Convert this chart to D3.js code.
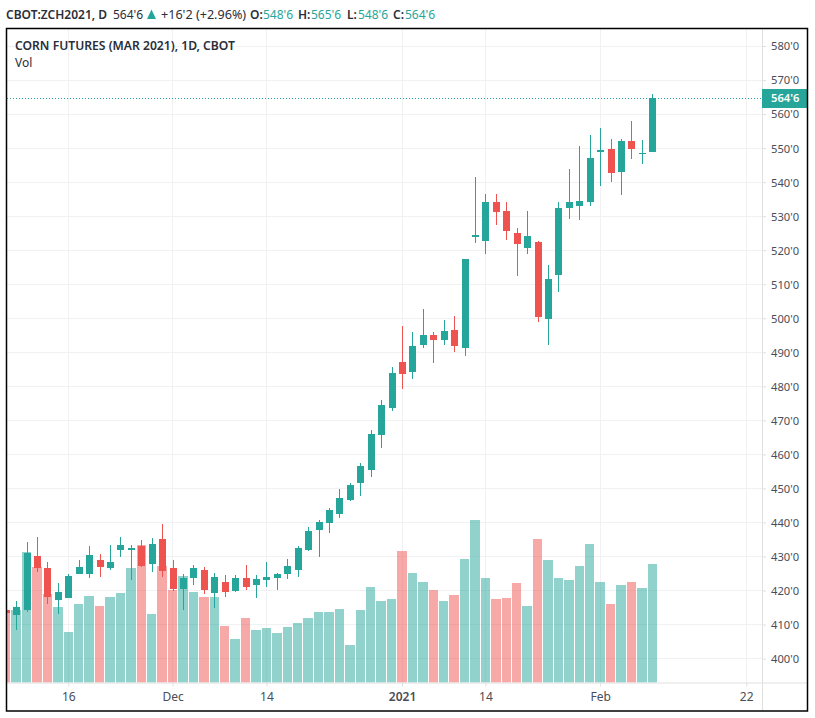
<!DOCTYPE html>
<html>
<head>
<meta charset="utf-8">
<script src="https://cdn.jsdelivr.net/npm/d3@7"></script>
<style>
  html, body { margin: 0; padding: 0; background: #fff; }
  svg { display: block; }
  text { font-family: "Noto Sans", "Open Sans", sans-serif; }
</style>
</head>
<body>
<div id="chart"></div>
<script>
const dates = [
  "2020-11-06","2020-11-09","2020-11-10","2020-11-11","2020-11-12","2020-11-13","2020-11-16","2020-11-17",
  "2020-11-18","2020-11-19","2020-11-20","2020-11-23","2020-11-24","2020-11-25","2020-11-27","2020-11-30",
  "2020-12-01","2020-12-02","2020-12-03","2020-12-04","2020-12-07","2020-12-08","2020-12-09","2020-12-10",
  "2020-12-11","2020-12-14","2020-12-15","2020-12-16","2020-12-17","2020-12-18","2020-12-21","2020-12-22",
  "2020-12-23","2020-12-24","2020-12-28","2020-12-29","2020-12-30","2020-12-31","2021-01-04","2021-01-05",
  "2021-01-06","2021-01-07","2021-01-08","2021-01-11","2021-01-12","2021-01-13","2021-01-14","2021-01-15",
  "2021-01-19","2021-01-20","2021-01-21","2021-01-22","2021-01-25","2021-01-26","2021-01-27","2021-01-28",
  "2021-01-29","2021-02-01","2021-02-02","2021-02-03","2021-02-04","2021-02-05","2021-02-08","2021-02-09",
  "2021-02-10","2021-02-11","2021-02-12","2021-02-16","2021-02-17","2021-02-18","2021-02-19","2021-02-22"
];

const opens = [414.3,412.8,414.25,430.1,426.6,417.2,417.8,424.85,424.85,429,426.6,431.9,431.9,433.05,427.8,435.1,
  426.6,420.45,423.65,426,419.25,422.5,419.85,423.65,421.6,423.1,423.65,424.85,426,431.9,437.75,439.85,
  442.5,446.6,451.6,455.4,465.7,473.6,487.15,484.2,492.15,495.1,493.6,496.55,491.25,523.9,522.7,534.15,
  531.5,525.05,520.65,522.4,499.8,512.7,532.4,533,534.15,548.85,549.75,543,552.1,548.25,548.75];
const highs = [415.5,416.9,434.25,435.7,428.4,422.2,424.85,429,433.05,430.7,433.35,435.7,433.35,434.85,435.4,439.55,
  429,424.85,427.5,426.9,425.15,424.55,424.55,427.5,424.55,428.4,425.15,429.25,433.05,438.65,440.7,444.25,
  449.8,451.6,457.45,467.15,476,485.65,497.7,495.95,502.7,495.95,499.5,500.65,517.4,541.5,536.5,536.5,
  534.15,526.5,531.5,522.7,515.65,534.15,543.85,550.6,553.85,555.9,552.65,552.65,558,552.4,565.75];
const lows = [412,408.4,413.75,425.4,416,413.1,417.8,424.85,423.65,424,426,429.85,423.1,426.9,425.4,424,
  419.85,414.25,421.6,419,414.85,418.1,419.55,420.15,417.8,421,420.15,423.35,424,431.6,429.85,436.9,
  441.3,446.3,447.75,453.35,461.85,472.75,479.2,482.15,491.25,486.85,492.15,490.1,488.9,522.1,518.9,527.4,
  523,512.4,518.9,498.9,492.15,507.7,529.15,528.85,533,538.85,540.05,536.2,546.8,545.35,548.75];
const closes = [413.4,415.15,431,426.6,418.1,419.55,424.25,426.9,430.4,426.9,428.4,433.35,432.5,427.2,433.65,425.7,
  420.45,423.65,426.6,420.15,424,419.55,423.65,421,423.35,424,424.85,427.2,432.5,437.5,440.1,443.65,
  447.2,451,456.6,466,474.5,483.9,483.6,491.85,495.1,493.6,496.25,491.85,517.4,524.45,534.15,531.2,
  525.65,521.8,524.15,500.35,511.5,532.4,534.15,534.45,547.1,549.45,542.7,552.1,549.75,548.55,564.75];
const volumes = [73,73,131,116,89,76,51,79,87,77,86,90,115,138,69,117,
  93,107,91,86,86,57,44,65,53,55,50,56,60,65,71,71,
  74,38,73,96,82,84,132,110,101,93,82,88,124,163,105,84,
  85,100,77,144,123,105,103,117,139,101,79,98,101,95,119];

const priceTicks = d3.range(400, 590, 10);
const dateTicks = ["2020-11-16","2020-12-01","2020-12-14","2021-01-04","2021-01-14","2021-02-01","2021-02-22"];
const dateLabels = ["16","Dec","14","2021","14","Feb","22"];

const lastPrice = 564.75;
const fmtPrice = p => {
  const whole = Math.floor(p);
  return `${whole}'${Math.round((p - whole) * 8)}`;
};

const width = 815, height = 718;
const frame = { left: 6.5, top: 28.5, right: 807.5, bottom: 711 };
const plot = { left: 7, top: 29, right: 762, bottom: 682.5 };
const up = "#26a69a", down = "#ef5350";

const xScale = d3.scalePoint().domain(dates).range([5.7, 746.2]);
const yScale = d3.scaleLinear().domain([400, 580]).range([658.6, 46]);
const volScale = d3.scaleLinear().domain([0, 200]).range([plot.bottom, plot.bottom - 200]);

const svg = d3.select("#chart")
  .append("svg")
    .attr("width", width)
    .attr("height", height)
    .attr("viewBox", [0, 0, width, height]);

svg.append("clipPath").attr("id", "plot-clip")
  .append("rect")
    .attr("x", plot.left)
    .attr("y", plot.top)
    .attr("width", plot.right - plot.left)
    .attr("height", plot.bottom - plot.top);

// header line, each piece placed on its own
const headerItems = [
  { x: 6, text: "CBOT:ZCH2021, D", weight: 600, fill: "#2a2e39", size: 12 },
  { x: 113, text: "564'6", weight: 400, fill: "#2a2e39", size: 12 },
  { x: 161, text: "+16'2 (+2.96%)", weight: 400, fill: "#2a2e39", size: 12.6 },
  { x: 250, text: "O:", weight: 600, fill: "#2a2e39", size: 12 },
  { x: 263, text: "548'6", weight: 400, fill: up, size: 12 },
  { x: 298, text: "H:", weight: 600, fill: "#2a2e39", size: 12 },
  { x: 311, text: "565'6", weight: 400, fill: up, size: 12 },
  { x: 347, text: "L:", weight: 600, fill: "#2a2e39", size: 12 },
  { x: 358, text: "548'6", weight: 400, fill: up, size: 12 },
  { x: 393, text: "C:", weight: 600, fill: "#2a2e39", size: 12 },
  { x: 405, text: "564'6", weight: 400, fill: up, size: 12 }
];
svg.append("g").selectAll("text")
  .data(headerItems)
  .join("text")
    .attr("x", d => d.x)
    .attr("y", 19)
    .attr("font-size", d => d.size)
    .attr("font-weight", d => d.weight)
    .attr("fill", d => d.fill)
    .text(d => d.text);
svg.append("path")
  .attr("d", "M147,19 L151.5,9.5 L156,19 Z")
  .attr("fill", up);

// grid
const gridG = svg.append("g").attr("stroke", "#f1f1f3").attr("stroke-width", 1).attr("shape-rendering", "crispEdges");
gridG.selectAll(".h").data(priceTicks).join("line")
    .attr("class", "h")
    .attr("x1", plot.left).attr("x2", plot.right)
    .attr("y1", d => yScale(d)).attr("y2", d => yScale(d));
gridG.selectAll(".v").data(dateTicks).join("line")
    .attr("class", "v")
    .attr("x1", d => xScale(d)).attr("x2", d => xScale(d))
    .attr("y1", plot.top).attr("y2", plot.bottom);

const bars = dates.slice(0, opens.length).map((d, i) => ({
  date: d, open: opens[i], high: highs[i], low: lows[i], close: closes[i], vol: volumes[i]
}));
const colorOf = d => d.close >= d.open ? up : down;

const innerChart = svg.append("g").attr("clip-path", "url(#plot-clip)");

// volume, width alternates 9/10 px like the source
const volLeft = d => Math.round(xScale(d.date) - 4.7);
innerChart.append("g")
  .attr("shape-rendering", "crispEdges")
  .selectAll("rect")
  .data(bars)
  .join("rect")
    .attr("x", volLeft)
    .attr("y", d => volScale(d.vol))
    .attr("width", d => Math.round(xScale(d.date) + xScale.step() - 4.7) - volLeft(d) - 1)
    .attr("height", d => plot.bottom - volScale(d.vol))
    .attr("fill", colorOf)
    .attr("fill-opacity", 0.5);

// candles
const candles = innerChart.append("g").attr("shape-rendering", "crispEdges");
candles.selectAll("line")
  .data(bars)
  .join("line")
    .attr("x1", d => Math.round(xScale(d.date)) + 0.5)
    .attr("x2", d => Math.round(xScale(d.date)) + 0.5)
    .attr("y1", d => yScale(d.high))
    .attr("y2", d => yScale(d.low))
    .attr("stroke", colorOf)
    .attr("stroke-width", 1);
candles.selectAll("rect")
  .data(bars)
  .join("rect")
    .attr("x", d => Math.round(xScale(d.date)) - 3)
    .attr("y", d => yScale(Math.max(d.open, d.close)))
    .attr("width", 7)
    .attr("height", d => Math.max(1, Math.abs(yScale(d.open) - yScale(d.close))))
    .attr("fill", colorOf);

// last price line
svg.append("line")
  .attr("x1", plot.left).attr("x2", plot.right)
  .attr("y1", Math.round(yScale(lastPrice)) + 0.5).attr("y2", Math.round(yScale(lastPrice)) + 0.5)
  .attr("stroke", up)
  .attr("stroke-width", 1)
  .attr("stroke-dasharray", "1 2")
  .attr("shape-rendering", "crispEdges");

// axes
const rightAxis = d3.axisRight(yScale)
  .tickValues(priceTicks)
  .tickSize(4)
  .tickPadding(5)
  .tickFormat(d => `${d}'0`);
const yAxisG = svg.append("g")
  .attr("transform", `translate(${plot.right}, 0)`)
  .call(rightAxis);
yAxisG.select(".domain").remove();

const bottomAxis = d3.axisBottom(xScale)
  .tickValues(dateTicks)
  .tickSize(4)
  .tickPadding(6)
  .tickFormat((d, i) => dateLabels[i]);
const xAxisG = svg.append("g")
  .attr("transform", `translate(0, ${plot.bottom})`)
  .call(bottomAxis);
xAxisG.select(".domain").remove();

[yAxisG, xAxisG].forEach(g => {
  g.selectAll("line").attr("stroke", "#e0e0e0");
  g.selectAll("text")
    .attr("fill", "#4a4d57")
    .attr("font-family", '"Noto Sans", "Open Sans", sans-serif')
    .attr("font-size", 12);
});
yAxisG.selectAll("text").attr("font-size", 11.2).attr("dy", "0.35em");
xAxisG.selectAll("text").filter((d, i) => dateLabels[i] === "2021").attr("font-weight", 600);

svg.append("line")
  .attr("x1", plot.right + 0.5).attr("x2", plot.right + 0.5)
  .attr("y1", plot.top).attr("y2", frame.bottom)
  .attr("stroke", "#e0e0e0");
svg.append("line")
  .attr("x1", plot.left).attr("x2", frame.right)
  .attr("y1", plot.bottom + 0.5).attr("y2", plot.bottom + 0.5)
  .attr("stroke", "#e0e0e0");

// last price label
svg.append("rect")
  .attr("x", plot.right)
  .attr("y", Math.round(yScale(lastPrice)) - 9)
  .attr("width", frame.right - plot.right)
  .attr("height", 19)
  .attr("fill", up);
svg.append("text")
  .attr("x", plot.right + 9)
  .attr("y", yScale(lastPrice) + 4.5)
  .attr("font-size", 11.2)
  .attr("font-weight", 600)
  .attr("fill", "#fff")
  .text(fmtPrice(lastPrice));

// legend
svg.append("text")
  .attr("x", 15).attr("y", 50)
  .attr("font-size", 12.15)
  .attr("font-weight", 600)
  .attr("fill", "#2a2e39")
  .text("CORN FUTURES (MAR 2021), 1D, CBOT");
svg.append("text")
  .attr("x", 15).attr("y", 67)
  .attr("font-size", 12)
  .attr("fill", "#2a2e39")
  .text("Vol");

// frame
svg.append("rect")
  .attr("x", frame.left)
  .attr("y", frame.top)
  .attr("width", frame.right - frame.left)
  .attr("height", frame.bottom - frame.top)
  .attr("fill", "none")
  .attr("stroke", "#000")
  .attr("stroke-width", 1.5);
</script>
</body>
</html>
